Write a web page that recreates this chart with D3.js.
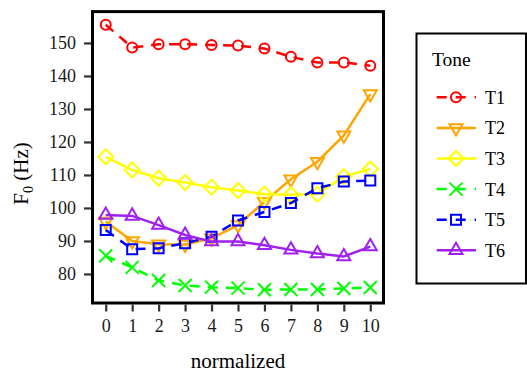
<!DOCTYPE html>
<html>
<head>
<meta charset="utf-8">
<script src="https://cdn.jsdelivr.net/npm/d3@7"></script>
<style>
  body { margin: 0; background: #fff; }
  svg, svg text { font-family: "Liberation Serif", "Times New Roman", Times, "DejaVu Serif", serif; }
</style>
</head>
<body>
<svg id="chart" width="527" height="373"></svg>
<script>
// values
const steps = [0, 1, 2, 3, 4, 5, 6, 7, 8, 9, 10];
const tones = ['T1', 'T2', 'T3', 'T4', 'T5', 'T6'];
const t1 = [155.5, 148.6, 149.6, 149.6, 149.4, 149.2, 148.3, 145.8, 144.1, 144.1, 143.1];
const t2 = [95.9, 90.0, 89.0, 88.9, 90.8, 94.8, 101.9, 108.7, 114.0, 122.0, 134.5];
const t3 = [115.5, 111.5, 109.0, 107.7, 106.3, 105.3, 104.2, 104.0, 104.2, 109.5, 111.8];
const t4 = [85.5, 82.0, 78.0, 76.5, 76.0, 75.7, 75.2, 75.3, 75.3, 75.6, 75.9];
const t5 = [93.3, 87.5, 87.8, 89.3, 91.3, 96.2, 98.8, 101.5, 106.0, 108.0, 108.3];
const t6 = [97.9, 97.6, 94.8, 91.8, 89.8, 89.8, 88.7, 87.3, 86.2, 85.3, 88.3];
const yTicks = [80, 90, 100, 110, 120, 130, 140, 150];

const colors = ['#ff0000', '#ffa500', '#ffff00', '#00ff00', '#0000ff', '#a020f0'];
const shapes = ['circle', 'triDown', 'diamond', 'cross', 'square', 'triUp'];
const dashed = [true, false, false, true, true, false];
const seriesValues = [t1, t2, t3, t4, t5, t6];

const serif = '"Liberation Serif", "Times New Roman", Times, "DejaVu Serif", serif';
const svg = d3.select('#chart');
const panel = {left: 92.5, right: 383.5, top: 11.6, bottom: 303};

const x = d3.scaleLinear().domain([-0.5, 10.5]).range([panel.left, panel.right]);
const y = d3.scaleLinear().domain([71.2, 159.5]).range([panel.bottom, panel.top]);

function markerPath(shape) {
  const p = d3.path();
  if (shape === 'circle') {
    p.arc(0, 0, 5, 0, 2 * Math.PI);
  } else if (shape === 'triUp' || shape === 'triDown') {
    const s = shape === 'triUp' ? 1 : -1;
    const xc = 6.5, r = xc / 0.866, yc = r / 2;
    p.moveTo(0, -s * r); p.lineTo(xc, s * yc); p.lineTo(-xc, s * yc); p.closePath();
  } else if (shape === 'diamond') {
    p.moveTo(0, -7.5); p.lineTo(7.5, 0); p.lineTo(0, 7.5); p.lineTo(-7.5, 0); p.closePath();
  } else if (shape === 'square') {
    p.rect(-5, -5, 10, 10);
  } else if (shape === 'cross') {
    p.moveTo(-6.5, -6.5); p.lineTo(6.5, 6.5); p.moveTo(6.5, -6.5); p.lineTo(-6.5, 6.5);
  }
  return p.toString();
}

const plot = svg.append('g');
const line = d3.line().x((d, i) => x(steps[i])).y(d => y(d));

seriesValues.forEach((vals, k) => {
  plot.append('path')
    .attr('d', line(vals))
    .attr('fill', 'none')
    .attr('stroke', colors[k])
    .attr('stroke-width', 2.5)
    .attr('stroke-dasharray', dashed[k] ? '10,8' : null);
  plot.selectAll('.m' + k)
    .data(vals)
    .enter().append('path')
    .attr('transform', (d, i) => 'translate(' + x(steps[i]) + ',' + y(d) + ')')
    .attr('d', markerPath(shapes[k]))
    .attr('fill', 'none')
    .attr('stroke', colors[k])
    .attr('stroke-width', 2);
});

// panel border
svg.append('rect')
  .attr('x', panel.left).attr('y', panel.top)
  .attr('width', panel.right - panel.left).attr('height', panel.bottom - panel.top)
  .attr('fill', 'none').attr('stroke', '#000').attr('stroke-width', 3);

// axes
const xAxis = svg.append('g')
  .attr('transform', 'translate(0,' + (panel.bottom + 1.5) + ')')
  .call(d3.axisBottom(x).tickValues(steps).tickSize(7).tickPadding(8).tickFormat(d3.format('d')));
const yAxis = svg.append('g')
  .attr('transform', 'translate(' + (panel.left - 1.5) + ',0)')
  .call(d3.axisLeft(y).tickValues(yTicks).tickSize(7).tickPadding(8));
[xAxis, yAxis].forEach(ax => {
  ax.attr('font-family', serif).attr('font-size', 18);
  ax.select('.domain').remove();
  ax.selectAll('line').attr('stroke', '#333').attr('stroke-width', 2.2);
  ax.selectAll('text').attr('fill', '#1a1a1a');
});

svg.append('text')
  .attr('x', (panel.left + panel.right) / 2).attr('y', 368)
  .attr('text-anchor', 'middle').attr('font-family', serif).attr('font-size', 21)
  .text('normalized');

const yl = svg.append('text')
  .attr('transform', 'translate(28,173.5) rotate(-90)')
  .attr('text-anchor', 'middle').attr('font-family', serif).attr('font-size', 21);
yl.append('tspan').text('F');
yl.append('tspan').attr('dy', 5).attr('font-size', 14).text('0');
yl.append('tspan').attr('dy', -5).text(' (Hz)');

// legend
const lg = svg.append('g').attr('font-family', serif);
lg.append('rect')
  .attr('x', 416.5).attr('y', 33.5).attr('width', 109.5).attr('height', 250)
  .attr('fill', '#fff').attr('stroke', '#000').attr('stroke-width', 2);
lg.append('text').attr('x', 432).attr('y', 66).attr('font-size', 19.5).text('Tone');
tones.forEach((t, k) => {
  const cy = 97.3 + k * 30.6;
  lg.append('line')
    .attr('x1', 436.7).attr('x2', 476).attr('y1', cy).attr('y2', cy)
    .attr('stroke', colors[k]).attr('stroke-width', 2.5)
    .attr('stroke-dasharray', dashed[k] ? '10,9' : null);
  lg.append('path')
    .attr('transform', 'translate(456,' + cy + ')')
    .attr('d', markerPath(shapes[k]))
    .attr('fill', 'none').attr('stroke', colors[k]).attr('stroke-width', 2);
  lg.append('text').attr('x', 485).attr('y', cy + 6.5).attr('font-size', 18).text(t);
});
</script>
</body>
</html>
